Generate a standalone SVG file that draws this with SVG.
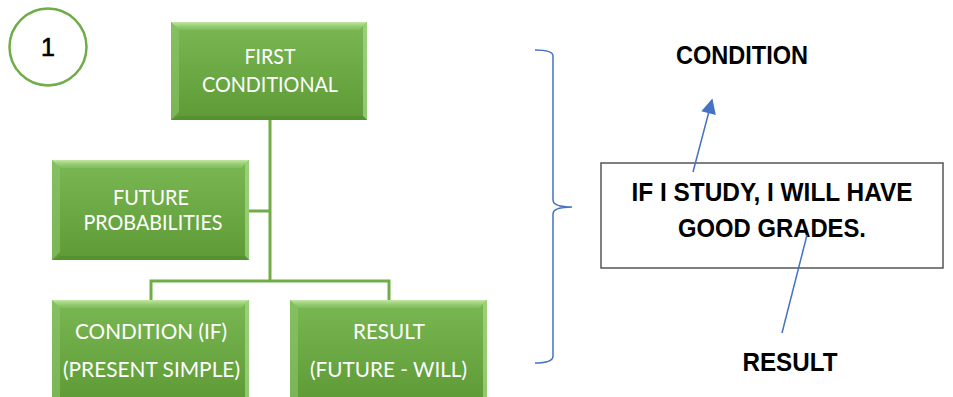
<svg xmlns="http://www.w3.org/2000/svg" width="953" height="397" viewBox="0 0 953 397">
  <defs>
    <linearGradient id="gfill" x1="0" y1="0" x2="0" y2="1">
      <stop offset="0" stop-color="#7AB854"/>
      <stop offset="1" stop-color="#5E9B37"/>
    </linearGradient>
    <linearGradient id="gtop" x1="0" y1="0" x2="0" y2="1">
      <stop offset="0" stop-color="#C8EBA8" stop-opacity="0.95"/>
      <stop offset="1" stop-color="#8CC868" stop-opacity="0.4"/>
    </linearGradient>
    <marker id="arr" viewBox="0 0 10 10" refX="9" refY="5" markerWidth="11" markerHeight="10" orient="auto" markerUnits="strokeWidth">
      <path d="M0,0 L10,5 L0,10 z" fill="#4472C4"/>
    </marker>
  </defs>
  <style>
    .box { fill: url(#gfill); }
    .bev-top { fill: url(#gtop); }
    .bev-left { fill: #8CC66A; opacity: 0.6; }
    .bev-right { fill: #A8DA8A; opacity: 0.7; }
    .bev-bot { fill: #4E8A2C; opacity: 0.6; }
    .lbl { font-family: Lato, "Open Sans", sans-serif; font-size: 22px; fill: #FFFFFF; text-anchor: middle; }
    .conn { stroke: #70AD47; stroke-width: 3; fill: none; }
    .blk { font-family: "Liberation Sans", Arial, sans-serif; font-weight: bold; font-size: 26px; fill: #000000; }
    .blue { stroke: #4472C4; stroke-width: 1.5; fill: none; }
  </style>

  <rect width="953" height="397" fill="#FFFFFF"/>

  <g id="badge">
    <circle cx="48" cy="47" r="38.5" fill="#FFFFFF" stroke="#70AD47" stroke-width="2.5"/>
    <text x="48" y="56" font-family="Liberation Sans, Arial, sans-serif" font-size="25" text-anchor="middle" fill="#000000" stroke="#000000" stroke-width="0.6">1</text>
  </g>

  <g id="connectors">
    <path class="conn" d="M270,120 V280"/>
    <path class="conn" d="M249,211 H270"/>
    <path class="conn" d="M151,300 V281 H389 V300"/>
  </g>

  <g id="first-conditional">
    <rect class="box" x="171" y="22" width="196" height="98"/>
    <polygon class="bev-top" points="171,22 367,22 359,30 179,30"/>
    <polygon class="bev-left" points="171,22 179,30 179,112 171,120"/>
    <polygon class="bev-right" points="367,22 367,120 363,116 363,26"/>
    <polygon class="bev-bot" points="171,120 367,120 363,116 179,116"/>
    <text class="lbl" x="270" y="64" textLength="51" lengthAdjust="spacingAndGlyphs">FIRST</text>
    <text class="lbl" x="270" y="92" textLength="136" lengthAdjust="spacingAndGlyphs">CONDITIONAL</text>
  </g>

  <g id="future-probabilities">
    <rect class="box" x="52" y="160" width="197" height="100"/>
    <polygon class="bev-top" points="52,160 249,160 241,168 60,168"/>
    <polygon class="bev-left" points="52,160 60,168 60,252 52,260"/>
    <polygon class="bev-right" points="249,160 249,260 245,256 245,164"/>
    <polygon class="bev-bot" points="52,260 249,260 245,256 60,256"/>
    <text class="lbl" x="151" y="205" textLength="76" lengthAdjust="spacingAndGlyphs">FUTURE</text>
    <text class="lbl" x="153" y="230" textLength="139" lengthAdjust="spacingAndGlyphs">PROBABILITIES</text>
  </g>

  <g id="condition-if">
    <rect class="box" x="52" y="300" width="197" height="100"/>
    <polygon class="bev-top" points="52,300 249,300 241,308 60,308"/>
    <polygon class="bev-left" points="52,300 60,308 60,400 52,400"/>
    <polygon class="bev-right" points="249,300 249,400 245,400 245,304"/>
    <text class="lbl" x="151" y="339" textLength="152" lengthAdjust="spacingAndGlyphs">CONDITION (IF)</text>
    <text class="lbl" x="151.5" y="377" textLength="177" lengthAdjust="spacingAndGlyphs">(PRESENT SIMPLE)</text>
  </g>

  <g id="result-will">
    <rect class="box" x="290" y="300" width="197" height="100"/>
    <polygon class="bev-top" points="290,300 487,300 479,308 298,308"/>
    <polygon class="bev-left" points="290,300 298,308 298,400 290,400"/>
    <polygon class="bev-right" points="487,300 487,400 483,400 483,304"/>
    <text class="lbl" x="389" y="339" textLength="72" lengthAdjust="spacingAndGlyphs">RESULT</text>
    <text class="lbl" x="388.5" y="377" textLength="157" lengthAdjust="spacingAndGlyphs">(FUTURE - WILL)</text>
  </g>

  <g id="brace">
    <path class="blue" d="M535,50 Q553,50 553,56 V200 Q553,207 572,207 M553,214 Q553,207 572,207 M553,214 V356 Q553,363 535,363"/>
  </g>

  <g id="example">
    <rect x="601" y="163" width="342" height="105" fill="#FFFFFF" stroke="#555555" stroke-width="1.5"/>
    <text class="blk" x="772" y="201" text-anchor="middle" textLength="281" lengthAdjust="spacingAndGlyphs">IF I STUDY, I WILL HAVE</text>
    <text class="blk" x="772" y="237" text-anchor="middle" textLength="188" lengthAdjust="spacingAndGlyphs">GOOD GRADES.</text>
  </g>

  <g id="condition-label">
    <text class="blk" x="742" y="64" text-anchor="middle" textLength="132" lengthAdjust="spacingAndGlyphs">CONDITION</text>
  </g>

  <g id="result-label">
    <text class="blk" x="790" y="371" text-anchor="middle" textLength="95" lengthAdjust="spacingAndGlyphs">RESULT</text>
  </g>

  <g id="pointers">
    <path class="blue" d="M693,172 L712,100" marker-end="url(#arr)"/>
    <path class="blue" d="M807,235 L782,333"/>
  </g>
</svg>
